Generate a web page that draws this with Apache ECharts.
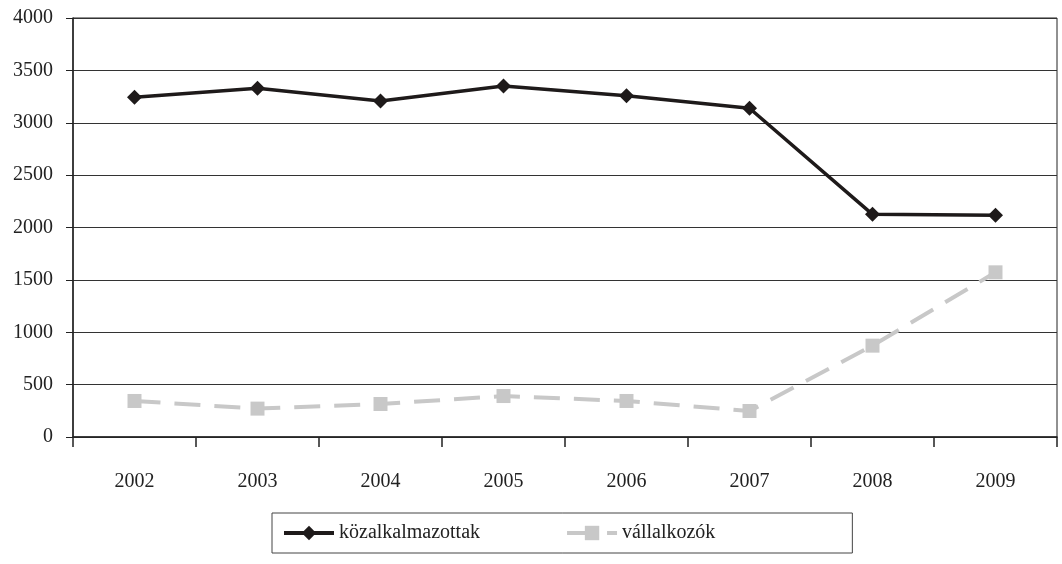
<!DOCTYPE html>
<html>
<head>
<meta charset="utf-8">
<script src="https://cdn.jsdelivr.net/npm/echarts@6/dist/echarts.min.js"></script>
<style>html,body{margin:0;padding:0;background:#fff;}#c{width:1062px;height:564px;}</style>
</head>
<body>
<div id="c"></div>
<script>
const years = ['2002','2003','2004','2005','2006','2007','2008','2009'];
const kozalkalmazottak = [3243, 3329, 3208, 3350, 3258, 3138, 2126, 2116];
const vallalkozok = [344, 271, 315, 391, 344, 248, 872, 1572];
const yTicks = [0, 500, 1000, 1500, 2000, 2500, 3000, 3500, 4000];

const FONT = '"Liberation Serif", "DejaVu Serif", serif';
const chart = echarts.init(document.getElementById('c'), null, {renderer: 'canvas'});
chart.setOption({
  animation: false,
  backgroundColor: '#fff',
  grid: {left: 73, right: 5, top: 18, bottom: 127, show: true, borderColor: '#222', borderWidth: 1, backgroundColor: 'transparent'},
  xAxis: {
    type: 'category',
    data: years,
    boundaryGap: true,
    axisLine: {lineStyle: {color: '#222', width: 1.5}},
    axisTick: {show: true, length: 10, lineStyle: {color: '#222', width: 1.5}},
    axisLabel: {fontFamily: FONT, fontSize: 20, color: '#222', margin: 35}
  },
  yAxis: {
    type: 'value',
    min: yTicks[0],
    max: yTicks[yTicks.length - 1],
    interval: 500,
    axisLine: {show: true, lineStyle: {color: '#222', width: 1.5}},
    axisTick: {show: true, length: 7, lineStyle: {color: '#222', width: 1}},
    splitLine: {show: true, lineStyle: {color: '#333', width: 1}},
    axisLabel: {fontFamily: FONT, fontSize: 20, color: '#222', margin: 20, formatter: function (v) { return String(v); }}
  },
  legend: {
    left: 272,
    top: 513,
    padding: [10, 137, 10, 10],
    itemWidth: 50,
    itemHeight: 18,
    itemGap: 85,
    borderColor: '#444',
    borderWidth: 1,
    textStyle: {fontFamily: FONT, fontSize: 20, color: '#222'},
    data: [
      {name: 'közalkalmazottak', lineStyle: {width: 4}},
      {name: 'vállalkozók', lineStyle: {width: 4}}
    ]
  },
  series: [
    {
      name: 'közalkalmazottak',
      type: 'line',
      data: kozalkalmazottak,
      symbol: 'diamond',
      symbolSize: 15,
      itemStyle: {color: '#1e1a1a'},
      lineStyle: {color: '#1e1a1a', width: 3.5}
    },
    {
      name: 'vállalkozók',
      type: 'line',
      data: vallalkozok,
      symbol: 'rect',
      symbolSize: 14,
      itemStyle: {color: '#c8c8c8'},
      lineStyle: {color: '#c8c8c8', width: 4, type: [26, 14]}
    }
  ]
});
</script>
</body>
</html>
